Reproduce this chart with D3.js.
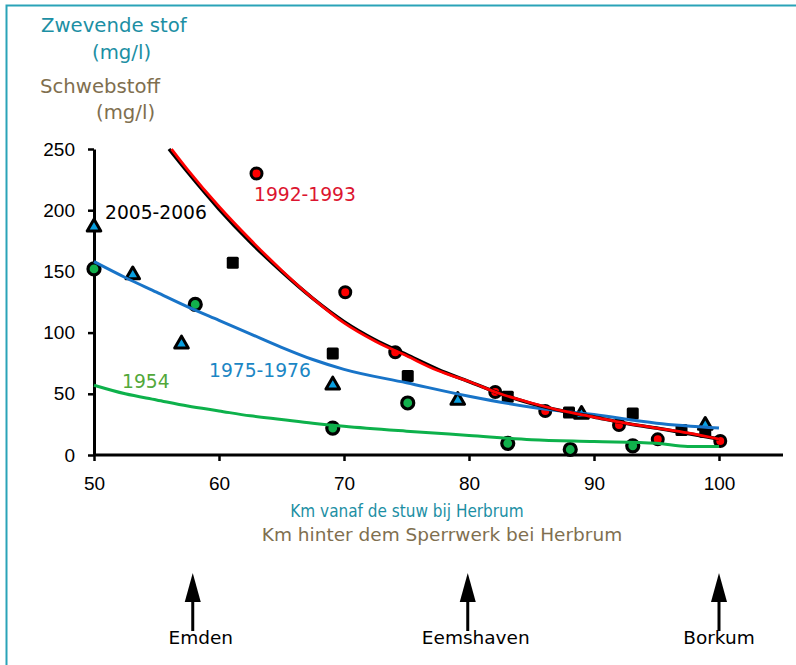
<!DOCTYPE html>
<html>
<head>
<meta charset="utf-8">
<script src="https://cdn.jsdelivr.net/npm/d3@7"></script>
<style>
  body { margin: 0; background: #fff; }
  svg { display: block; }
</style>
</head>
<body>
<div id="chart"></div>
<script>
// measured points [km, mg/l]
var pts1954 = [[50,152],[58.1,123],[69.1,22],[75.1,42.5],[83.1,9.5],[88.1,4.5],[93.1,7.5]];
var pts1975 = [[50,187],[53.1,148],[57,91.5],[69.1,58],[79.1,45.5],[89,34],[98.9,25]];
var pts1992 = [[63,230],[70.1,133],[74.1,84],[82.1,51.5],[86.1,36],[92,24.5],[95.1,12.8],[100.1,11.4]];
var pts2005 = [[61.1,157],[69.1,83],[75.1,64.5],[83.1,47.5],[88,34.8],[93.1,34],[97,20.4],[98.9,19]];

// trend lines
var line1954 = [[50,57],[52.5,50],[55,45],[57.5,40],[60,36],[62.5,32],[65,29],[67.5,26],[70,23.5],[75,19.5],[80,16],[85,12.5],[90,11],[95,9.5],[97.5,7],[100,7]];
var line1975 = [[50,158],[52.5,145],[55,133],[57.5,121],[60,110],[62.5,99],[65,88],[67.5,78],[70,70],[75,59],[80,48],[85,39],[90,33],[95,26],[100,22]];
var line1992 = [[56.2,250],[57.5,233],[60,203],[62.5,176],[65,151],[67.5,128],[70,108],[72.5,93],[75,81],[77.5,69],[80,60],[82.5,50],[85,42.5],[87.5,36],[90,31],[92.5,26],[95,22],[97.5,18],[100,13]];
var line2005 = [[56,250],[57.5,231],[60,201],[62.5,174],[65,150],[67.5,128],[70,109],[72.5,94],[75,82],[77.5,70],[80,60],[82.5,50],[85,42],[87.5,36],[90,31],[92.5,26],[95,22],[97.5,17.5],[100,13]];

var xTicks = [50,60,70,80,90,100];
var yTicks = [0,50,100,150,200,250];
var places = [["Emden",57.9],["Eemshaven",79.9],["Borkum",100]];

var width = 796, height = 665;
var teal = "#1c8fa4", brown = "#7f6f4f";

var svg = d3.select("#chart").append("svg")
  .attr("width", width)
  .attr("height", height);

// frame (only top/left edges visible)
svg.append("rect")
  .attr("x", 6.5).attr("y", 5.5)
  .attr("width", 900).attr("height", 900)
  .attr("fill", "none")
  .attr("stroke", "#2aa3b8")
  .attr("stroke-width", 2);

var x = d3.scaleLinear().domain([50, 100]).range([94, 719]);
var y = d3.scaleLinear().domain([0, 250]).range([455, 149]);

// axes
var xAxis = svg.append("g")
  .attr("transform", "translate(0,455)")
  .call(d3.axisBottom(x).tickValues(xTicks).tickSize(6).tickPadding(15).tickSizeOuter(0));
xAxis.select(".domain").attr("d", "M" + x(50) + ",0H783");

var yAxis = svg.append("g")
  .attr("transform", "translate(94,0)")
  .call(d3.axisLeft(y).tickValues(yTicks).tickSize(6).tickPadding(13).tickSizeOuter(0));

svg.selectAll(".domain").attr("stroke", "#000").attr("stroke-width", 3);
svg.selectAll(".tick line").attr("stroke", "#000").attr("stroke-width", 2.5);
svg.selectAll(".tick text")
  .attr("font-family", "Liberation Sans, Arial, sans-serif")
  .attr("font-size", 19)
  .attr("fill", "#000");
xAxis.selectAll(".tick text").attr("dy", "0.75em");

// markers
var pt = svg.append("g");
pt.selectAll(".sq").data(pts2005).enter().append("rect")
  .attr("x", d => x(d[0]) - 6)
  .attr("y", d => y(d[1]) - 6)
  .attr("width", 12).attr("height", 12)
  .attr("rx", 1.5)
  .attr("fill", "#000");

pt.selectAll(".tri").data(pts1975).enter().append("path")
  .attr("d", d3.symbol().type(d3.symbolTriangle).size(80))
  .attr("transform", d => "translate(" + x(d[0]) + "," + (y(d[1]) + 1) + ")")
  .attr("fill", "#0aa0e0")
  .attr("stroke", "#000")
  .attr("stroke-width", 3)
  .attr("stroke-linejoin", "round");

pt.selectAll(".g").data(pts1954).enter().append("circle")
  .attr("cx", d => x(d[0]))
  .attr("cy", d => y(d[1]))
  .attr("r", 6)
  .attr("fill", "#12b04c")
  .attr("stroke", "#000")
  .attr("stroke-width", 3.2);

pt.selectAll(".r").data(pts1992).enter().append("circle")
  .attr("cx", d => x(d[0]))
  .attr("cy", d => y(d[1]))
  .attr("r", 5.5)
  .attr("fill", "#ff0000")
  .attr("stroke", "#000")
  .attr("stroke-width", 3);

// lines
var line = d3.line()
  .x(d => x(d[0]))
  .y(d => y(d[1]))
  .curve(d3.curveMonotoneX);

function drawLine(data, color, w) {
  svg.append("path")
    .datum(data)
    .attr("fill", "none")
    .attr("stroke", color)
    .attr("stroke-width", w)
    .attr("d", line);
}
drawLine(line1954, "#0db14b", 3);
drawLine(line1975, "#1874c8", 3);
drawLine(line2005, "#000", 3.5);
drawLine(line1992, "#ff0000", 2.8);

// series labels
function label(txt, xp, yp, color, size) {
  return svg.append("text")
    .attr("x", xp).attr("y", yp)
    .attr("font-family", "DejaVu Sans, Verdana, sans-serif")
    .attr("font-size", size || 18.7)
    .attr("fill", color)
    .text(txt);
}
label("2005-2006", 105, 219, "#000");
label("1992-1993", 254, 201, "#dc1530");
label("1975-1976", 209, 377, "#1b86c4");
label("1954", 122, 388, "#52a83a");

// y title
label("Zwevende stof", 41, 32, teal, 19.7);
label("(mg/l)", 92, 59, teal, 19.7);
label("Schwebstoff", 40, 93, brown, 19.7);
label("(mg/l)", 96, 119, brown, 19.7);

// x titles
svg.append("text")
  .attr("x", 407).attr("y", 517)
  .attr("text-anchor", "middle")
  .attr("font-family", "DejaVu Sans Condensed, DejaVu Sans, sans-serif")
  .attr("font-stretch", "condensed")
  .attr("font-size", 17)
  .attr("fill", teal)
  .text("Km vanaf de stuw bij Herbrum");
svg.append("text")
  .attr("x", 442).attr("y", 541)
  .attr("text-anchor", "middle")
  .attr("font-family", "DejaVu Sans, Verdana, sans-serif")
  .attr("font-size", 18.5)
  .attr("fill", brown)
  .text("Km hinter dem Sperrwerk bei Herbrum");

// place arrows
var pl = svg.append("g").selectAll("g").data(places).enter().append("g")
  .attr("transform", d => "translate(" + x(d[1]) + ",0)");
pl.append("line")
  .attr("x1", 0).attr("x2", 0)
  .attr("y1", 598).attr("y2", 631)
  .attr("stroke", "#000").attr("stroke-width", 3);
pl.append("path")
  .attr("d", "M0,573L8,602L-8,602Z")
  .attr("fill", "#000");
pl.append("text")
  .attr("x", (d, i) => i === places.length - 1 ? 0 : 8)
  .attr("y", 644)
  .attr("text-anchor", "middle")
  .attr("font-family", "DejaVu Sans, Verdana, sans-serif")
  .attr("font-size", 18.5)
  .attr("fill", "#000")
  .text(d => d[0]);
</script>
</body>
</html>
